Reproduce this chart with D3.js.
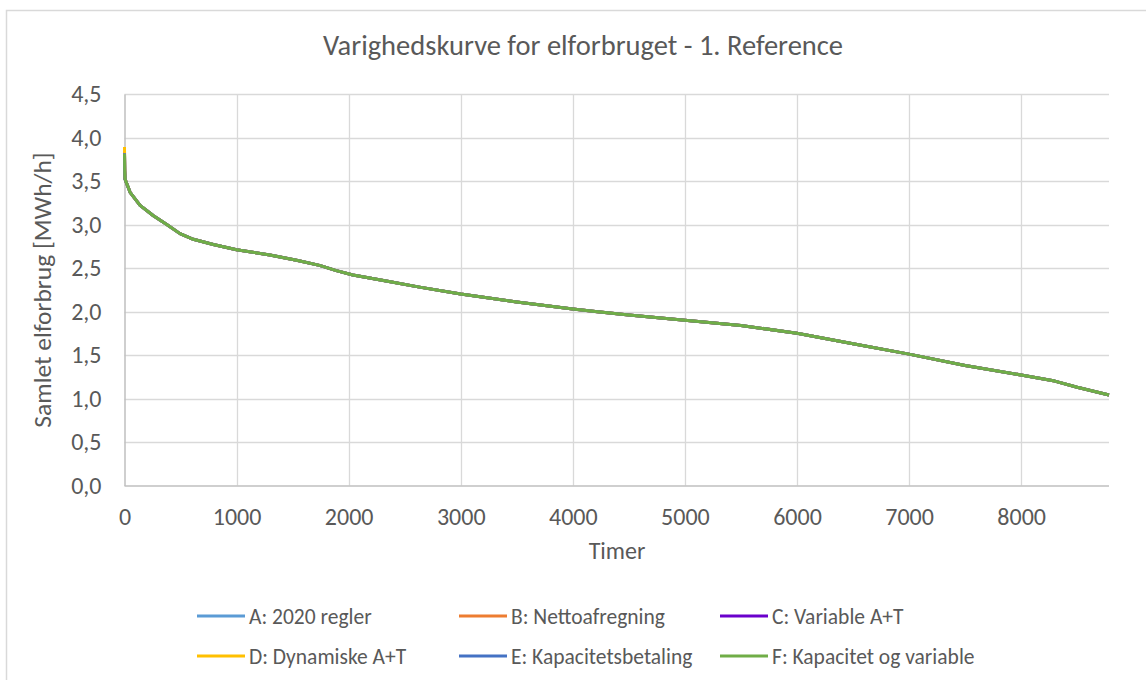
<!DOCTYPE html>
<html><head><meta charset="utf-8">
<script src="https://cdn.jsdelivr.net/npm/d3@7"></script>
<style>body{margin:0;background:#fff}svg{display:block}text{font-family:Carlito,Lato,"Liberation Sans",sans-serif;fill:#595959}</style>
</head><body>
<script>
const title = "Varighedskurve for elforbruget - 1. Reference";
const xTicks = [0,1000,2000,3000,4000,5000,6000,7000,8000];
const yTicks = [0,0.5,1,1.5,2,2.5,3,3.5,4,4.5];
const seriesNames = ["A: 2020 regler","B: Nettoafregning","C: Variable A+T","D: Dynamiske A+T","E: Kapacitetsbetaling","F: Kapacitet og variable"];
const seriesColors = ["#5B9BD5","#ED7D31","#6A00CC","#FFC000","#4472C4","#70AD47"];
const hours = [0,2,5,14,50,139,258,377,495,614,792,1000,1297,1535,1740,1890,2038,2335,2632,3000,3500,4000,4200,4500,5000,5500,6000,6500,7000,7500,8000,8300,8500,8784];
const seriesA = [3.82,3.62,3.52,3.49,3.37,3.22,3.10,3.00,2.895,2.83,2.77,2.71,2.65,2.59,2.53,2.47,2.42,2.35,2.28,2.20,2.11,2.03,2.00,1.96,1.90,1.84,1.75,1.63,1.51,1.38,1.27,1.20,1.13,1.04];
const seriesB = [3.84,3.62,3.52,3.49,3.37,3.22,3.10,3.00,2.895,2.83,2.77,2.71,2.65,2.59,2.53,2.47,2.42,2.35,2.28,2.20,2.11,2.03,2.00,1.96,1.90,1.84,1.75,1.63,1.51,1.38,1.27,1.20,1.13,1.04];
const seriesC = [3.83,3.62,3.52,3.49,3.37,3.22,3.10,3.00,2.895,2.83,2.77,2.71,2.65,2.59,2.53,2.47,2.42,2.35,2.28,2.20,2.11,2.03,2.00,1.96,1.90,1.84,1.75,1.63,1.51,1.38,1.27,1.20,1.13,1.04];
const seriesD = [3.89,3.66,3.53,3.49,3.37,3.22,3.10,3.00,2.895,2.83,2.77,2.71,2.65,2.59,2.53,2.47,2.42,2.35,2.28,2.20,2.11,2.03,2.00,1.96,1.90,1.84,1.75,1.63,1.51,1.38,1.27,1.20,1.13,1.04];
const seriesE = [3.82,3.62,3.52,3.49,3.37,3.22,3.10,3.00,2.895,2.83,2.77,2.71,2.65,2.59,2.53,2.47,2.42,2.35,2.28,2.20,2.11,2.03,2.00,1.96,1.90,1.84,1.75,1.63,1.51,1.38,1.27,1.20,1.13,1.04];
const seriesF = [3.81,3.62,3.52,3.49,3.37,3.22,3.10,3.00,2.895,2.83,2.77,2.71,2.65,2.59,2.53,2.47,2.42,2.35,2.28,2.20,2.11,2.03,2.00,1.96,1.90,1.84,1.75,1.63,1.51,1.38,1.27,1.20,1.13,1.04];
const allSeries = [seriesA,seriesB,seriesC,seriesD,seriesE,seriesF];

const W=1146,H=680;
const svg=d3.select("body").append("svg").attr("width",W).attr("height",H);
svg.append("rect").attr("x",6.5).attr("y",10.5).attr("width",1150).attr("height",700).attr("fill","#fff").attr("stroke","#D9D9D9").attr("stroke-width",1.5);

const m={l:124.5,r:1109,t:94,b:485.5};
const x=d3.scaleLinear().domain([0,8784]).range([m.l,m.r]);
const y=d3.scaleLinear().domain([0,4.5]).range([m.b,m.t]);

svg.append("g").selectAll("line").data(yTicks.filter(d=>d>0)).join("line")
  .attr("x1",m.l).attr("x2",m.r).attr("y1",d=>Math.round(y(d))+0.5).attr("y2",d=>Math.round(y(d))+0.5)
  .attr("stroke","#D9D9D9").attr("stroke-width",1.3);
svg.append("g").selectAll("line").data(xTicks.filter(d=>d>0)).join("line")
  .attr("y1",m.t).attr("y2",m.b).attr("x1",d=>Math.round(x(d))+0.5).attr("x2",d=>Math.round(x(d))+0.5)
  .attr("stroke","#D9D9D9").attr("stroke-width",1.3);
const xAxis=svg.append("g").attr("transform",`translate(0,${m.b})`).call(d3.axisBottom(x).tickValues(xTicks).tickSize(0).tickPadding(31).tickFormat(d3.format("d")));
xAxis.select(".domain").attr("stroke","#BFBFBF").attr("stroke-width",1.5).attr("d",`M${m.l},0.5H${m.r}`);
const fmt=d=>d3.format(".1f")(d).replace(".",",");
const yAxis=svg.append("g").attr("transform",`translate(${m.l},0)`).call(d3.axisLeft(y).tickValues(yTicks).tickSize(0).tickPadding(23).tickFormat(fmt));
yAxis.select(".domain").attr("stroke","#BFBFBF").attr("stroke-width",1.5);
svg.selectAll(".tick text").style("font-size","24px").attr("fill","#595959");
xAxis.selectAll(".tick text").attr("dy","0.35em");

const line=d3.line().x((d,i)=>x(hours[i])).y(d=>y(d));
svg.append("g").selectAll("path").data(allSeries).join("path")
  .attr("d",d=>line(d)).attr("fill","none").attr("stroke",(d,i)=>seriesColors[i]).attr("stroke-width",3).attr("stroke-linejoin","round");

svg.append("text").attr("x",583).attr("y",55).attr("text-anchor","middle").style("font-size","28.5px").text(title);
svg.append("text").attr("x",617).attr("y",559).attr("text-anchor","middle").style("font-size","24px").text("Timer");
svg.append("text").attr("transform","translate(51,290) rotate(-90)").attr("text-anchor","middle").style("font-size","25.5px").text("Samlet elforbrug [MWh/h]");

const legX=[197,459,720], legY=[616,656];
const leg=svg.append("g").selectAll("g").data(seriesNames).join("g")
  .attr("transform",(d,i)=>`translate(${legX[i%3]},${legY[Math.floor(i/3)]})`);
leg.append("line").attr("x1",0).attr("x2",48).attr("y1",0).attr("y2",0).attr("stroke",(d,i)=>seriesColors[i]).attr("stroke-width",3);
leg.append("text").attr("x",52).attr("y",0).attr("dy","0.35em").style("font-size","21.5px").text(d=>d);
</script>
</body></html>
